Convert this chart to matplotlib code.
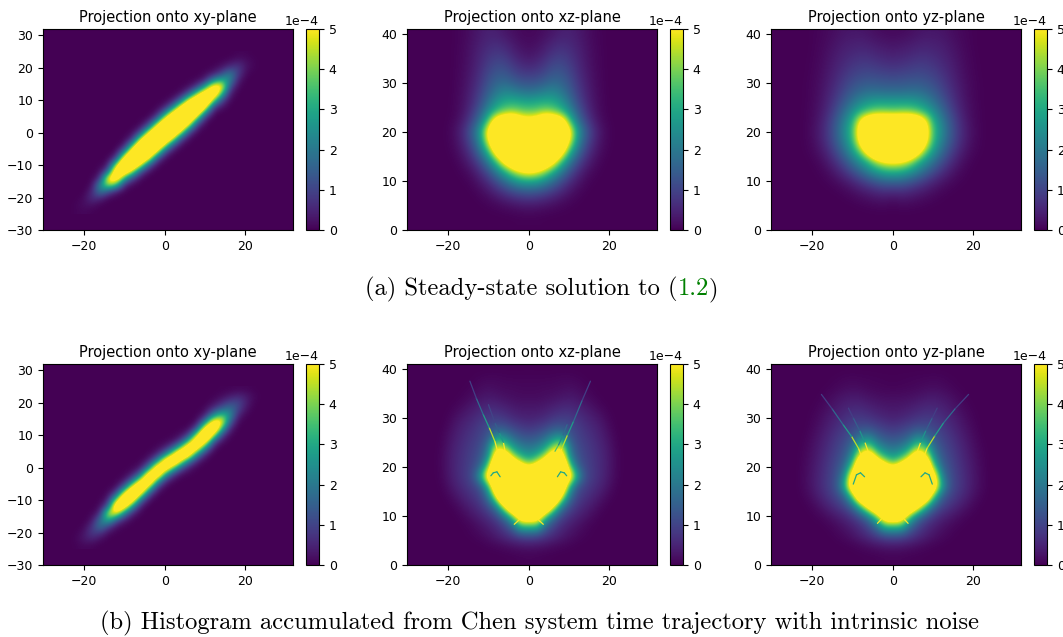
import numpy as np
import matplotlib
matplotlib.use('Agg')
import matplotlib.pyplot as plt
from matplotlib.collections import LineCollection
from matplotlib.colors import Normalize
from matplotlib.ticker import ScalarFormatter

# densities are in units of 1e-4, values above 5 only show as clipped yellow
# xy panels: {x: (first y, values going up in steps of 2)}
a_xy = {
    -22: (-24, [.05, .05]),
    -20: (-24, [.1, .2, .12]),
    -18: (-24, [.03, .25, .7, .5, .1, .03]),
    -16: (-22, [.05, .6, 2.2, 2.4, .6, .15, .03]),
    -14: (-20, [.1, 1.3, 4.6, 5.6, 1.6, .3, .05]),
    -12: (-20, [.03, .4, 3.5, 6.5, 7.5, 4.4, 1, .1]),
    -10: (-18, [.05, .5, 3, 6.5, 9, 6, 2.3, .3, .05]),
    -8: (-16, [.1, 1, 4.2, 7.4, 10, 6.8, 3.4, .6, .1]),
    -6: (-14, [.12, 1.1, 4.6, 7.7, 11, 7.7, 4.6, 1.1, .12, .02]),
    -4: (-12, [.15, 1.3, 5, 8, 11, 8, 5, 1.3, .15]),
    -2: (-10, [.12, 1.1, 4.6, 7.7, 11, 8.3, 5.3, 1.6, .2, .03]),
    0: (-8, [.1, 1, 4.2, 7.4, 10.6, 8.8, 5.6, 2, .3, .03]),
    2: (-6, [.1, 1, 4.4, 7.5, 11, 8.5, 5.5, 1.8, .25, .03]),
    4: (-4, [.1, .9, 4.2, 7.4, 10.6, 8.3, 5.3, 1.6, .2, .03]),
    6: (-2, [.08, .8, 3.8, 7, 10.5, 8, 5, 1.3, .15, .03]),
    8: (0, [.05, .5, 2.8, 6.3, 10, 7.2, 4, .9, .1]),
    10: (2, [.03, .25, 2, 5.6, 8.8, 6.5, 3, .5, .1]),
    12: (6, [.1, 1, 4.2, 7.4, 6, 2.4, .4, .05]),
    14: (8, [.3, 1.2, 3.5, 5.6, 3.4, 1.1, .25, .03]),
    16: (10, [.1, .4, 1.2, 2.4, 2.2, .7, .12]),
    18: (14, [.1, .4, .9, .9, .3, .05]),
    20: (18, [.1, .25, .2, .05]),
    22: (20, [.05, .05]),
}
b_xy = {
    -22: (-24, [.03, .06, .02]),
    -20: (-24, [.1, .32, .25, .06]),
    -18: (-24, [.05, .45, .9, .7, .2, .05]),
    -16: (-22, [.15, .8, 2, 1.8, .5, .12, .03]),
    -14: (-20, [.15, 1, 3.5, 4.8, 1.5, .4, .1, .02]),
    -12: (-20, [.03, .2, 1.4, 5.2, 7.5, 4.3, 1.1, .15, .03]),
    -10: (-18, [.05, .4, 2.1, 6, 8.2, 5.3, 1.6, .25, .05]),
    -8: (-16, [.05, .45, 2.3, 6, 8.5, 5.5, 1.7, .3, .06]),
    -6: (-14, [.03, .25, 1.6, 5.3, 8.2, 5.3, 1.6, .25, .05]),
    -4: (-10, [.15, 1.2, 4.4, 8, 6.2, 2, .4, .06]),
    -2: (-8, [.08, .8, 3.4, 7.5, 6.5, 2.3, .45, .08]),
    0: (-6, [.05, .7, 3.2, 7, 6.2, 2, .4, .06]),
    2: (-4, [.1, .9, 4, 8, 5, 1.5, .2, .03]),
    4: (-2, [.15, 1.4, 4.8, 8, 4.2, 1, .15, .03]),
    6: (-2, [.05, .3, 2, 6, 7.5, 3.8, .9, .1]),
    8: (0, [.04, .4, 2.2, 6, 7.7, 4.6, 1.2, .15, .03]),
    10: (2, [.04, .4, 2.2, 6, 8.7, 6, 2.2, .4, .08]),
    12: (6, [.2, 1.2, 4.8, 7.8, 6, 2.4, .7, .15, .02]),
    14: (8, [.2, 1, 3.5, 5.6, 3.8, 1.5, .5, .12, .02]),
    16: (10, [.1, .5, 1.6, 2.6, 2, 1, .3, .03]),
    18: (14, [.1, .5, 1.1, 1.1, .5, .06]),
    20: (16, [.05, .25, .45, .35, .06]),
    22: (20, [.05, .1, .02]),
}

# xz, yz panels: right half only (x = 0, 2, 4 ...), rows from z = 40 down to z = 2
a_xz = [
    [.1, .12, .2, .3, .42, .45, .35, .22, .1, .04],
    [.15, .2, .33, .5, .6, .55, .42, .25, .12, .04],
    [.25, .33, .5, .72, .8, .7, .5, .3, .14, .05],
    [.45, .55, .75, 1, 1.05, .85, .58, .33, .15, .05],
    [.8, .85, 1.05, 1.3, 1.3, 1.05, .68, .38, .18, .06],
    [1.25, 1.3, 1.5, 1.7, 1.6, 1.25, .8, .45, .2, .07],
    [1.9, 2, 2.2, 2.3, 2, 1.5, .95, .52, .24, .08],
    [2.9, 3, 3.1, 3, 2.6, 1.9, 1.15, .62, .27, .09, .01],
    [3.8, 3.9, 4.2, 4, 3.4, 2.5, 1.5, .8, .33, .1, .01],
    [5.8, 6.2, 7.5, 7.2, 6.5, 3.8, 2, 1.1, .48, .16, .03],
    [9, 9, 9, 9, 7.8, 5.6, 2.8, 1.5, .7, .25, .05],
    [10, 10, 10, 9.5, 7.8, 5, 2.5, 1.3, .6, .2, .04],
    [10, 10, 10, 8.5, 6.2, 3.4, 1.9, .95, .42, .14, .02],
    [9, 8.5, 7.2, 5.8, 3.6, 2.2, 1.2, .6, .25, .06],
    [5.6, 5.2, 4.4, 3.2, 2.2, 1.3, .7, .3, .1, .02],
    [3, 2.9, 2.4, 1.8, 1.2, .7, .35, .12, .03],
    [1.5, 1.4, 1.2, .9, .6, .33, .14, .04],
    [.6, .55, .45, .33, .2, .1, .04],
    [.15, .14, .1, .07, .04, .02],
    [.02, .02, .01],
]
a_yz = [
    [.12, .14, .18, .25, .3, .3, .28, .2, .13, .07, .03],
    [.25, .28, .33, .4, .45, .42, .38, .28, .17, .09, .03],
    [.4, .45, .5, .58, .6, .55, .47, .35, .22, .11, .04],
    [.62, .65, .72, .8, .8, .72, .58, .43, .27, .13, .05, .01],
    [.9, .95, 1, 1.05, 1.02, .9, .72, .52, .32, .16, .06, .01],
    [1.3, 1.3, 1.35, 1.38, 1.3, 1.15, .9, .62, .38, .19, .08, .02],
    [1.8, 1.8, 1.85, 1.85, 1.7, 1.45, 1.1, .75, .45, .22, .09, .02],
    [2.8, 2.8, 2.8, 2.65, 2.35, 1.9, 1.4, .92, .53, .26, .1, .02],
    [3.9, 4, 4, 3.7, 3.2, 2.5, 1.8, 1.15, .65, .3, .12, .03],
    [7.5, 7.5, 7.5, 7, 5.4, 3.2, 2.2, 1.4, .8, .37, .14, .03],
    [10, 10, 10, 8.5, 6, 3.5, 2.4, 1.5, .85, .42, .16, .04],
    [10, 10, 10, 8.5, 5.6, 3.3, 2.2, 1.4, .8, .38, .14, .03],
    [9, 9, 8, 6.2, 4, 2.7, 1.8, 1.1, .6, .27, .09, .02],
    [5.4, 5.2, 4.6, 3.4, 2.6, 1.9, 1.25, .75, .38, .14, .04],
    [3.3, 3.2, 2.8, 2.3, 1.7, 1.2, .75, .42, .18, .06, .01],
    [1.7, 1.65, 1.45, 1.15, .85, .55, .33, .17, .07, .02],
    [.65, .7, .6, .47, .33, .2, .1, .04, .01],
    [.15, .22, .2, .15, .1, .05, .02],
    [.02, .03, .03, .02, .01],
    [0],
]
b_xz = [
    [.01],
    [.05, .05, .05, .06, .08, .08, .05, .02],
    [.1, .1, .12, .12, .15, .18, .15, .06, .02],
    [.15, .15, .18, .22, .28, .33, .27, .16, .07, .01],
    [.3, .3, .35, .45, .55, .58, .48, .35, .2, .08, .01],
    [.45, .48, .58, .75, .85, .85, .7, .52, .38, .22, .05],
    [.75, .85, 1, 1.25, 1.3, 1.15, .9, .68, .52, .34, .12],
    [1.25, 1.35, 1.7, 2.3, 2.6, 1.35, 1, .8, .62, .42, .2, .02],
    [1.9, 2.1, 2.7, 4, 5, 2, 1.15, .9, .7, .5, .26, .04],
    [2.7, 3.2, 4.4, 7, 6.5, 2.4, 1.3, .98, .75, .55, .3, .06],
    [4.6, 6, 8, 10, 9, 4, 1.6, 1.05, .78, .56, .3, .06],
    [10, 10, 10, 10, 8, 6.5, 2.8, 1.15, .8, .55, .28, .05],
    [10, 10, 10, 10, 8, 3.2, 1.3, .92, .68, .45, .2, .02],
    [10, 10, 10, 10, 5.2, 2, 1, .72, .5, .28, .08],
    [10, 9.5, 9, 5.2, 2.2, 1.2, .75, .5, .3, .1, .01],
    [7, 7, 3.8, 2, 1.1, .72, .47, .28, .12, .02],
    [3.5, 3.5, 1.7, 1, .62, .4, .24, .1, .03],
    [1.2, 1.1, .85, .62, .4, .24, .12, .05, .01],
    [.3, .28, .22, .15, .09, .05, .01],
    [.05, .04, .02, .01],
]
b_yz = [
    [.01],
    [.02, .03, .04, .05, .06, .07, .06, .03, .01],
    [.05, .06, .08, .1, .14, .16, .14, .08, .03, .01],
    [.18, .18, .2, .25, .32, .35, .3, .22, .12, .03],
    [.3, .32, .38, .46, .55, .55, .47, .35, .2, .09, .02],
    [.45, .5, .6, .72, .8, .78, .65, .48, .32, .16, .05],
    [.75, .85, 1, 1.15, 1.15, 1.05, .85, .62, .42, .24, .09],
    [1.2, 1.3, 1.6, 2.2, 2, 1.35, 1, .78, .54, .32, .15, .02],
    [1.8, 2, 2.6, 4, 3.6, 1.8, 1.2, .9, .64, .4, .2, .05],
    [2.7, 3.2, 4.4, 7, 5.6, 2.5, 1.4, 1.02, .72, .46, .24, .08],
    [4.6, 6, 8, 10, 8.5, 3.8, 1.7, 1.15, .8, .52, .28, .1],
    [10, 10, 10, 10, 8, 6.5, 2.3, 1.25, .85, .56, .3, .12],
    [10, 10, 10, 10, 9, 7, 3, 1.3, .88, .58, .3, .12],
    [10, 10, 10, 9.5, 8, 3.8, 1.6, 1.05, .74, .46, .22, .06],
    [10, 9.5, 8.5, 6.2, 3.5, 1.7, 1.05, .74, .48, .26, .09, .01],
    [7.5, 7, 4, 2.2, 1.3, .85, .55, .36, .2, .08, .02],
    [3.5, 3.5, 1.9, 1.1, .7, .45, .27, .14, .05, .01],
    [1.3, 1.2, .95, .68, .45, .26, .14, .06, .01],
    [.35, .32, .26, .18, .11, .05, .02],
    [.05, .05, .03, .02, .01],
]

# thin fine structure of the histogram: (x, z, value)
b_xz_lines = [
    ([-6.7, -7.5, -8.4], [19.7, 22.5, 25.2], [6, 6, 5.2]),
    ([-8.4, -9.8, -11.3, -13, -14.6], [25.2, 28, 30.7, 34, 37.5], [4.5, 2.8, 1.7, .9, .4]),
    ([-5.6, -6.3, -7.3, -8.4, -10], [22, 25, 27, 29, 32.7], [6, 2.6, 1.5, 1, .5]),
    ([6.8, 7.5, 8.2], [19.7, 22, 23.8], [6, 6, 5.2]),
    ([8.2, 9.6, 11.1, 13.2, 15.3], [23.8, 26.5, 29.3, 33.5, 37.5], [4.5, 2.8, 1.7, .9, .4]),
    ([5.8, 6.5, 7.4, 8.5, 9.5], [21.5, 23.2, 24.5, 26.5, 28.6], [6, 3.6, 2.4, 1.7, 1.1]),
    ([-3.6, -2.8, -1.4], [8.3, 8.9, 10], [5.5, 5.5, 6]),
    ([3.6, 2.8, 1.4], [8.3, 8.9, 10], [5.5, 5.5, 6]),
    ([-9.4, -8.8, -7.9, -7.1], [18.2, 18.8, 19, 18], [3, 3, 3, 3]),
    ([9.4, 8.8, 7.9, 7.1], [18.2, 18.8, 19, 18], [3, 3, 3, 3]),
]
b_yz_lines = [
    ([-6.9, -7.7, -8.5], [20, 22, 23.8], [6, 6, 5.2]),
    ([-8.5, -10.2, -12.3, -15, -17.7], [23.8, 26.2, 28.6, 31.8, 34.8], [4.5, 2.8, 1.7, .9, .35]),
    ([-5.6, -6.9, -8.2, -9.8, -11], [22, 25, 27.4, 30, 32], [6, 2.6, 1.5, .9, .45]),
    ([6.9, 7.7, 8.5], [20, 22, 23.8], [6, 6, 5.2]),
    ([8.5, 10.4, 12.6, 15.5, 18.8], [23.8, 26.3, 29, 31.9, 34.8], [4.5, 2.8, 1.7, .9, .35]),
    ([5.6, 6.9, 8.2, 9.8, 11], [22, 25, 27.4, 30, 32], [6, 2.6, 1.5, .9, .45]),
    ([-3.8, -3, -1.6], [8.5, 9.2, 10.5], [5.5, 5.5, 6]),
    ([3.8, 3, 1.6], [8.5, 9.2, 10.5], [5.5, 5.5, 6]),
    ([-9.8, -9, -8, -7], [16.5, 18.4, 18.8, 18], [3, 3, 3, 3]),
    ([9.8, 9, 8, 7], [16.5, 18.4, 18.8, 18], [3, 3, 3, 3]),
]

ticks_xy = [-30, -20, -10, 0, 10, 20, 30]
ticks_z = [0, 10, 20, 30, 40]
ticks_x = [-20, 0, 20]
cbar_ticks = [0, 1, 2, 3, 4, 5]
titles = ['Projection onto xy-plane', 'Projection onto xz-plane', 'Projection onto yz-plane']

W, H = 1063, 637
fig = plt.figure(figsize=(W / 100, H / 100), dpi=100)
norm = Normalize(0, 5e-4)
cmap = plt.get_cmap('viridis')


def px_axes(x0, y0, x1, y1):
    return fig.add_axes([x0 / W, 1 - y1 / H, (x1 - x0) / W, (y1 - y0) / H])


def xy_grid(cols):
    g = np.zeros((25, 25))
    for x, (start, vals) in cols.items():
        i = (x + 24) // 2
        j = (start + 24) // 2
        g[j:j + len(vals), i] = vals
    return g


def mirrored(rows, n=13):
    half = np.array([r + [0] * (n - len(r)) for r in rows])
    return np.hstack([half[:, :0:-1], half])


def panel(x0, y0, grid, extent, origin, ylim, yticks, title, lines=None):
    ax = px_axes(x0, y0, x0 + 250, y0 + 201)
    ax.set_facecolor(cmap(0))
    im = ax.imshow(grid * 1e-4, extent=extent, origin=origin, cmap=cmap, norm=norm,
                   interpolation='bicubic', aspect='auto')
    if lines:
        for xs, zs, vals in lines:
            pts = np.column_stack([xs, zs])
            segs = np.stack([pts[:-1], pts[1:]], axis=1)
            lc = LineCollection(segs, cmap=cmap, norm=norm, linewidths=0.9, capstyle='round')
            lc.set_array(np.array(vals[:-1]) * 1e-4)
            ax.add_collection(lc)
    ax.set_xlim(-30.2, 31.8)
    ax.set_ylim(*ylim)
    ax.set_xticks(ticks_x)
    ax.set_yticks(yticks)
    ax.tick_params(labelsize=9)
    ax.set_title(title, fontsize=10.5, pad=5)
    cax = px_axes(x0 + 263, y0, x0 + 276, y0 + 201)
    cb = fig.colorbar(im, cax=cax)
    fmt = ScalarFormatter(useMathText=False)
    fmt.set_powerlimits((0, 0))
    cb.formatter = fmt
    cb.set_ticks([t * 1e-4 for t in cbar_ticks])
    cb.ax.tick_params(labelsize=9)
    cb.ax.yaxis.get_offset_text().set_fontsize(9)


ext_xy = [-25, 25, -25, 25]
ext_z = [-25, 25, 1, 41]
lim_xy = (-30, 32)
lim_z = (0, 41)

panel(43, 29, xy_grid(a_xy), ext_xy, 'lower', lim_xy, ticks_xy, titles[0])
panel(407, 29, mirrored(a_xz), ext_z, 'upper', lim_z, ticks_z, titles[1])
panel(771, 29, mirrored(a_yz), ext_z, 'upper', lim_z, ticks_z, titles[2])
panel(43, 364, xy_grid(b_xy), ext_xy, 'lower', lim_xy, ticks_xy, titles[0])
panel(407, 364, mirrored(b_xz), ext_z, 'upper', lim_z, ticks_z, titles[1], b_xz_lines)
panel(771, 364, mirrored(b_yz), ext_z, 'upper', lim_z, ticks_z, titles[2], b_yz_lines)


def caption(x_px, base_px, pieces):
    r = fig.canvas.get_renderer()
    x = x_px
    for s, c in pieces:
        t = fig.text(x / W, 1 - base_px / H, s, color=c, family='cmr10', fontsize=17.7, va='baseline')
        x = t.get_window_extent(r).x1


caption(365, 295, [('(a) Steady-state solution to (', 'black'), ('1.2', 'green'), (')', 'black')])
caption(100, 629, [('(b) Histogram accumulated from Chen system time trajectory with intrinsic noise', 'black')])

fig.savefig('out.png', dpi=100)
